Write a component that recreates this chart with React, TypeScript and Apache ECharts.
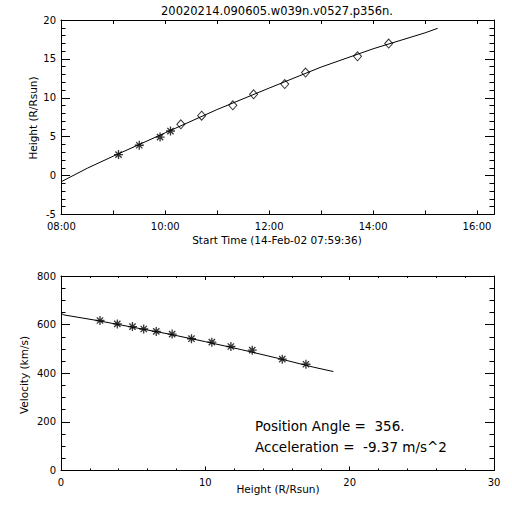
import React, { useEffect, useRef } from "react";
import * as echarts from "echarts";

// ---- data ----
const chartTitle = "20020214.090605.w039n.v0527.p356n.";
const obsTimes = ["09:06", "09:30", "09:54", "10:06", "10:18", "10:42", "11:18", "11:42", "12:18", "12:42", "13:42", "14:18"];
const obsHeights = [2.7, 3.9, 4.95, 5.73, 6.6, 7.7, 9.04, 10.45, 11.77, 13.25, 15.33, 16.97];
const starCount = 4; // first points drawn as asterisks, the rest as diamonds
const velocities = [617, 603, 592, 582, 572, 561, 542, 528, 510, 495, 458, 437];

const fitTimes = ["07:59:36", "08:30", "09:00", "10:00", "11:00", "12:00", "13:00", "14:00", "15:00", "15:14:36"];
const fitHeights = [-0.8, 0.95, 2.5, 5.5, 8.5, 11.25, 13.95, 16.3, 18.35, 18.93];

const velFitHeights = [0, 0.2, 2.5, 5, 7.5, 10, 12.5, 15, 17.5, 18.87];
const velFitValues = [647, 640, 617, 589, 561, 530, 497, 462, 425, 407];

const timeStart = "07:59:36";
const timeSpanSeconds = 30000;
const timeLabelTicks = ["08:00", "10:00", "12:00", "14:00", "16:00"];
const timeMinorTicks = ["08:00", "09:00", "10:00", "11:00", "12:00", "13:00", "14:00", "15:00", "16:00"];

const topXTitle = "Start Time (14-Feb-02 07:59:36)";
const topYTitle = "Height (R/Rsun)";
const botXTitle = "Height (R/Rsun)";
const botYTitle = "Velocity (km/s)";
const annotation1 = "Position Angle =  356.";
const annotation2 = "Acceleration =  -9.37 m/s^2";

function toMs(t: string): number {
  const p = t.split(":").map(Number);
  return Date.UTC(2002, 1, 14, p[0], p[1], p[2] || 0);
}
function fmtTime(v: number): string {
  return new Date(v).toISOString().slice(11, 16);
}

const FONT = "DejaVu Sans";
const STAR = "path://M0,5L10,5M5,0L5,10M1.5,1.5L8.5,8.5M8.5,1.5L1.5,8.5";

export default function App() {
  const ref = useRef<HTMLDivElement>(null);
  useEffect(() => {
    document.body.style.margin = "0";
    const chart = echarts.init(ref.current!, null, { renderer: "svg" });
    const tMin = toMs(timeStart);
    const tMax = tMin + timeSpanSeconds * 1000;
    const line = { onZero: false, lineStyle: { color: "#000", width: 1 } };
    const lbl = { color: "#000", fontFamily: FONT, fontSize: 10 };
    const tk = { color: "#000", width: 1 };
    const hourTicks = timeMinorTicks.map(toMs);

    const option: any = {
      animation: false,
      backgroundColor: "#fff",
      grid: [
        { left: 61, right: 18, top: 20, height: 194.5 },
        { left: 61, right: 18, top: 276, height: 194.5 },
      ],
      xAxis: [
        {
          type: "value", gridIndex: 0, position: "bottom", min: tMin, max: tMax,
          axisLine: line, splitLine: { show: false },
          axisTick: { show: true, inside: true, length: 4, customValues: hourTicks, lineStyle: tk },
          axisLabel: { ...lbl, margin: 7, customValues: timeLabelTicks.map(toMs), formatter: (v: number) => fmtTime(v) },
        },
        {
          type: "value", gridIndex: 0, position: "top", min: tMin, max: tMax,
          axisLine: line, splitLine: { show: false },
          axisTick: { show: true, inside: true, length: 4, customValues: hourTicks, lineStyle: tk },
          axisLabel: { show: false },
        },
        {
          type: "value", gridIndex: 1, position: "bottom", min: 0, max: 30, interval: 10,
          axisLine: line, splitLine: { show: false },
          axisTick: { show: true, inside: true, length: 4, lineStyle: tk },
          minorTick: { show: true, splitNumber: 5, length: 2, lineStyle: tk },
          axisLabel: { ...lbl, margin: 7 },
        },
        {
          type: "value", gridIndex: 1, position: "top", min: 0, max: 30, interval: 10,
          axisLine: line, splitLine: { show: false },
          axisTick: { show: true, inside: true, length: 4, lineStyle: tk },
          minorTick: { show: true, splitNumber: 5, length: 2, lineStyle: tk },
          axisLabel: { show: false },
        },
      ],
      yAxis: [
        {
          type: "value", gridIndex: 0, position: "left", min: -5, max: 20, interval: 5,
          axisLine: line, splitLine: { show: false },
          axisTick: { show: true, inside: true, length: 9, lineStyle: tk },
          minorTick: { show: true, splitNumber: 5, length: 4.5, lineStyle: tk },
          axisLabel: { ...lbl, margin: 5 },
        },
        {
          type: "value", gridIndex: 0, position: "right", min: -5, max: 20, interval: 5,
          axisLine: line, splitLine: { show: false },
          axisTick: { show: true, inside: true, length: 9, lineStyle: tk },
          minorTick: { show: true, splitNumber: 5, length: 4.5, lineStyle: tk },
          axisLabel: { show: false },
        },
        {
          type: "value", gridIndex: 1, position: "left", min: 0, max: 800, interval: 200,
          axisLine: line, splitLine: { show: false },
          axisTick: { show: true, inside: true, length: 9, lineStyle: tk },
          minorTick: { show: true, splitNumber: 4, length: 4.5, lineStyle: tk },
          axisLabel: { ...lbl, margin: 5 },
        },
        {
          type: "value", gridIndex: 1, position: "right", min: 0, max: 800, interval: 200,
          axisLine: line, splitLine: { show: false },
          axisTick: { show: true, inside: true, length: 9, lineStyle: tk },
          minorTick: { show: true, splitNumber: 4, length: 4.5, lineStyle: tk },
          axisLabel: { show: false },
        },
      ],
      series: [
        {
          type: "line", xAxisIndex: 0, yAxisIndex: 0, showSymbol: false, silent: true,
          lineStyle: { color: "#000", width: 1 },
          data: fitTimes.map((t, i) => [toMs(t), fitHeights[i]]),
        },
        {
          type: "scatter", xAxisIndex: 0, yAxisIndex: 0, symbol: STAR, symbolSize: 9,
          itemStyle: { color: "transparent", borderColor: "#000", borderWidth: 1.3 },
          data: obsTimes.slice(0, starCount).map((t, i) => [toMs(t), obsHeights[i]]),
        },
        {
          type: "scatter", xAxisIndex: 0, yAxisIndex: 0, symbol: "diamond", symbolSize: [8, 9],
          itemStyle: { color: "#fff", borderColor: "#000", borderWidth: 1 },
          data: obsTimes.slice(starCount).map((t, i) => [toMs(t), obsHeights[i + starCount]]),
        },
        {
          type: "line", xAxisIndex: 2, yAxisIndex: 2, showSymbol: false, silent: true,
          lineStyle: { color: "#000", width: 1 },
          data: velFitHeights.map((h, i) => [h, velFitValues[i]]),
        },
        {
          type: "scatter", xAxisIndex: 2, yAxisIndex: 2, symbol: STAR, symbolSize: 9,
          itemStyle: { color: "transparent", borderColor: "#000", borderWidth: 1.3 },
          data: obsHeights.map((h, i) => [h, velocities[i]]),
        },
      ],
      graphic: [
        { type: "text", x: 277, y: 11, style: { text: chartTitle, fill: "#000", font: `11.5px "${FONT}"`, textAlign: "center", textVerticalAlign: "middle" } },
        { type: "text", x: 277, y: 240, style: { text: topXTitle, fill: "#000", font: `10.5px "${FONT}"`, textAlign: "center", textVerticalAlign: "middle" } },
        { type: "text", x: 32.5, y: 118, rotation: Math.PI / 2, style: { text: topYTitle, fill: "#000", font: `10.5px "${FONT}"`, textAlign: "center", textVerticalAlign: "middle" } },
        { type: "text", x: 278, y: 489, style: { text: botXTitle, fill: "#000", font: `10.5px "${FONT}"`, textAlign: "center", textVerticalAlign: "middle" } },
        { type: "text", x: 24, y: 375, rotation: Math.PI / 2, style: { text: botYTitle, fill: "#000", font: `10.5px "${FONT}"`, textAlign: "center", textVerticalAlign: "middle" } },
        { type: "text", x: 255, y: 425.5, style: { text: annotation1, fill: "#000", font: `13.5px "${FONT}"`, textAlign: "left", textVerticalAlign: "middle" } },
        { type: "text", x: 255, y: 446.5, style: { text: annotation2, fill: "#000", font: `13.5px "${FONT}"`, textAlign: "left", textVerticalAlign: "middle" } },
      ],
    };
    chart.setOption(option);
    return () => chart.dispose();
  }, []);
  return <div ref={ref} style={{ width: 512, height: 512 }} />;
}
